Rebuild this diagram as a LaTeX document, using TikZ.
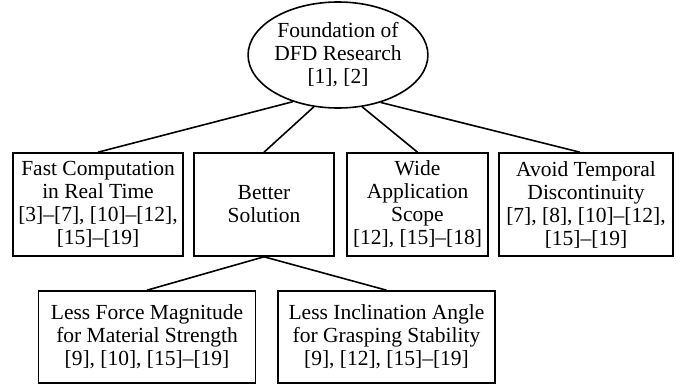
\documentclass[tikz,border=0pt]{standalone}
\usepackage{fontspec}
\setmainfont{Liberation Serif}
\usetikzlibrary{shapes.geometric}
\begin{document}
\begin{tikzpicture}[x=1pt,y=-1pt,
    txt/.style={align=center,font=\fontsize{21.5}{23}\selectfont,inner sep=0pt},
    topic/.style={txt,draw,ellipse,line width=1.6pt,minimum width=170pt,minimum height=106pt},
    goal/.style={txt,draw,rectangle,line width=1.6pt,minimum height=103pt},
    sub/.style={txt,draw,rectangle,line width=1.6pt,minimum height=92pt,minimum width=217pt},
    link/.style={line width=1.6pt}]
  \useasboundingbox (0,0) rectangle (683,388);
  % root
  \node [topic] (root) at (338,55) {Foundation of\\DFD Research\\{}[1], [2]};
  % first level
  \node [goal,minimum width=170pt] (fast) at (98,204.5) {Fast Computation\\in Real Time\\{}[3]--[7], [10]--[12],\\{}[15]--[19]};
  \node [goal,minimum width=140pt] (better) at (264,204.5) {Better\\Solution};
  \node [goal,minimum width=141pt] (wide) at (417.5,204.5) {Wide\\Application\\Scope\\{}[12], [15]--[18]};
  \node [goal,minimum width=174pt] (avoid) at (586,204.5) {Avoid Temporal\\Discontinuity\\{}[7], [8], [10]--[12],\\{}[15]--[19]};
  % second level
  \node [sub] (force) at (147,337) {Less Force Magnitude\\for Material Strength\\{}[9], [10], [15]--[19]};
  \node [sub] (angle) at (386.5,337) {Less Inclination Angle\\for Grasping Stability\\{}[9], [12], [15]--[19]};
  % links
  \draw [link] (root.226) -- (fast.north);
  \draw [link] (root.245) -- (better.north);
  \draw [link] (root.295) -- (wide.north);
  \draw [link] (root.312) -- ([xshift=-6pt]avoid.north);
  \draw [link] (better.south) -- (force.north);
  \draw [link] (better.south) -- (angle.north);
\end{tikzpicture}
\end{document}
